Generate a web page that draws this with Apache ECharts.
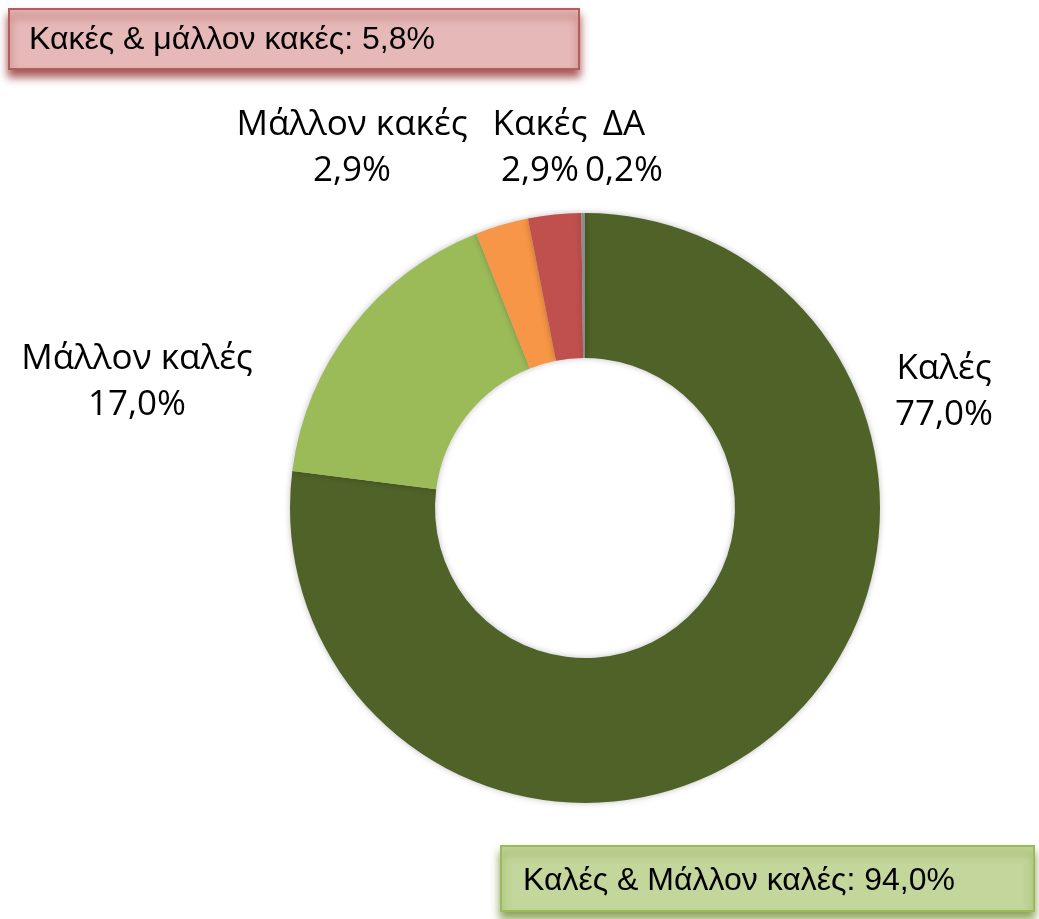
<!DOCTYPE html>
<html>
<head>
<meta charset="utf-8">
<script src="https://cdn.jsdelivr.net/npm/echarts@6/dist/echarts.min.js"></script>
<style>
  html, body { margin: 0; padding: 0; background: #fff; }
  #chart { width: 1039px; height: 919px; }
</style>
</head>
<body>
<div id="chart"></div>
<script>
const categories = ["Καλές", "Μάλλον καλές", "Μάλλον κακές", "Κακές", "ΔΑ"];
const shares = [77.0, 17.0, 2.9, 2.9, 0.2];
const colors = ["#4f6228", "#9bbb59", "#f79646", "#c0504d", "#8c8c8c"];
const badTotal = "Κακές & μάλλον κακές: 5,8%";
const goodTotal = "Καλές & Μάλλον καλές: 94,0%";

// label anchor points (centre of each two-line label)
const labelPos = [[944, 392], [137, 382], [352, 148], [540, 148], [624, 148]];

const fmt = (v) => v.toFixed(1).replace(".", ",") + "%";

const chart = echarts.init(document.getElementById("chart"));
chart.setOption({
  backgroundColor: "#fff",
  animation: false,
  series: [
    {
      type: "pie",
      center: [585, 508],
      radius: [150, 295],
      startAngle: 90,
      clockwise: true,
      data: categories.map((name, i) => ({
        name,
        value: shares[i],
        itemStyle: { color: colors[i] },
      })),
      itemStyle: { shadowBlur: 6, shadowColor: "rgba(0,0,0,0.25)" },
      label: {
        show: true,
        position: "outside",
        formatter: (p) => p.name + "\n" + fmt(p.value),
        fontFamily: "Open Sans",
        fontSize: 35,
        lineHeight: 46,
        color: "#000",
        align: "center",
      },
      labelLine: { show: false },
      labelLayout: (p) => ({
        x: labelPos[p.dataIndex][0],
        y: labelPos[p.dataIndex][1],
        align: "center",
        verticalAlign: "middle",
      }),
      emphasis: { disabled: true },
    },
  ],
  graphic: [
    {
      type: "group",
      left: 8,
      top: 8,
      children: [
        {
          type: "rect",
          shape: { x: 0, y: 0, width: 570, height: 60 },
          style: {
            fill: "#e6b9b8",
            stroke: "#b65c5a",
            lineWidth: 2,
            shadowBlur: 8,
            shadowOffsetY: 7,
            shadowColor: "rgba(149,55,53,0.85)",
          },
        },
        {
          type: "text",
          x: 20,
          y: 31,
          style: {
            text: badTotal,
            font: "32px 'Liberation Sans', Arial",
            fill: "#000",
            verticalAlign: "middle",
          },
        },
      ],
    },
    {
      type: "group",
      left: 500,
      top: 845,
      children: [
        {
          type: "rect",
          shape: { x: 0, y: 0, width: 533, height: 65 },
          style: {
            fill: "#c3d69b",
            stroke: "#9bbb59",
            lineWidth: 2,
            shadowBlur: 8,
            shadowOffsetY: 7,
            shadowColor: "rgba(119,147,60,0.85)",
          },
        },
        {
          type: "text",
          x: 22,
          y: 35,
          style: {
            text: goodTotal,
            font: "32px 'Liberation Sans', Arial",
            fill: "#000",
            verticalAlign: "middle",
          },
        },
      ],
    },
  ],
});
</script>
</body>
</html>
